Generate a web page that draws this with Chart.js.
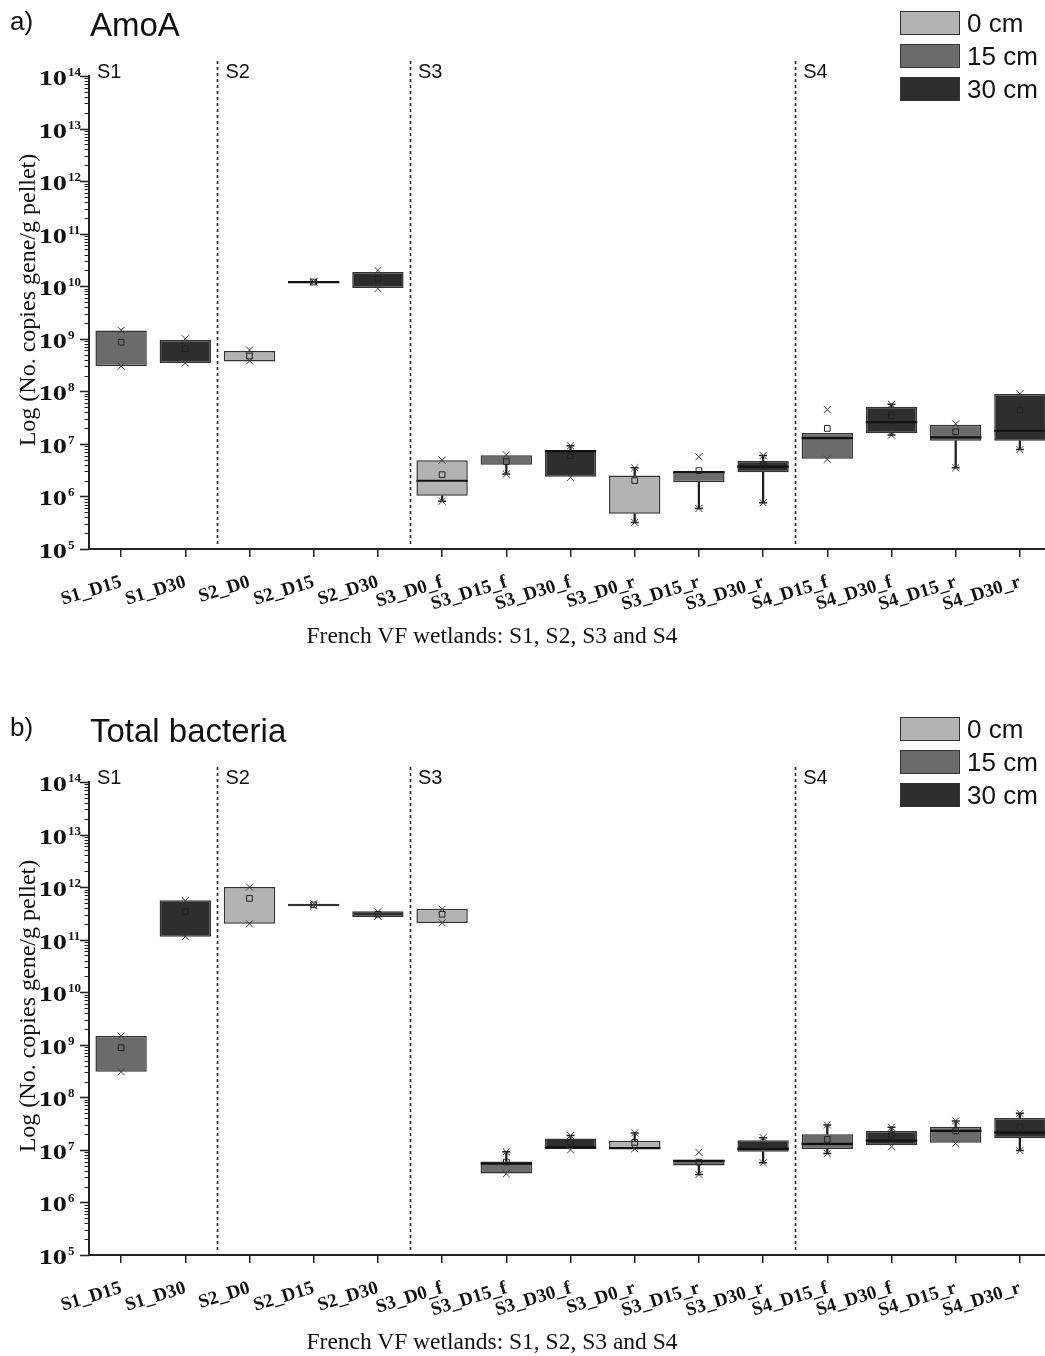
<!DOCTYPE html>
<html><head><meta charset="utf-8">
<script src="https://cdn.jsdelivr.net/npm/chart.js@4.4.1/dist/chart.umd.min.js"></script>
<style>
html,body{margin:0;padding:0;background:#fff;overflow:hidden;width:1045px;height:1356px;}
.panel{position:absolute;left:0;width:1060px;}
.panel canvas{position:absolute;left:0;top:0;}
.txt{position:absolute;white-space:nowrap;color:#111;}
.sans{font-family:"Liberation Sans",Arial,sans-serif;}
.serif{font-family:"Liberation Serif","Times New Roman",serif;}
.legbox{position:absolute;width:60px;height:24px;border:1px solid #333;box-sizing:border-box;}
</style></head><body>
<div class="panel" id="panelA" style="top:0;height:665px;"><canvas id="chartA" width="1060" height="665"></canvas></div>
<div class="panel" id="panelB" style="top:706px;height:650px;"><canvas id="chartB" width="1060" height="650"></canvas></div>
<script>
// ---------------- data ----------------
const categories = ['S1_D15','S1_D30','S2_D0','S2_D15','S2_D30','S3_D0_f','S3_D15_f','S3_D30_f','S3_D0_r','S3_D15_r','S3_D30_r','S4_D15_f','S4_D30_f','S4_D15_r','S4_D30_r'];
const depthCm = [15,30,0,15,30,0,15,30,0,15,30,15,30,15,30];
const depthValues = [0,15,30];
const depthLabels = ['0 cm','15 cm','30 cm'];
const groupNames = ['S1','S2','S3','S4'];
const groupFirstIndex = [0,2,5,11];
const yTickValues = [1e5,1e6,1e7,1e8,1e9,1e10,1e11,1e12,1e13,1e14];
const xAxisTitle = 'French VF wetlands: S1, S2, S3 and S4';
const yAxisTitle = 'Log (No. copies gene/g pellet)';

// a) AmoA
const amoaQ1     = [3.0e8, 3.46e8, 3.68e8, 1.17e10, 9.3e9, 1.03e6, 4.0e6, 2.37e6, 4.7e5, 1.87e6, 2.9e6, 5.2e6, 1.6e7, 1.15e7, 1.15e7];
const amoaQ3     = [1.43e9, 9.5e8, 5.86e8, 1.23e10, 1.87e10, 4.9e6, 6.1e6, 7.6e6, 2.5e6, 2.95e6, 4.7e6, 1.61e7, 5.1e7, 2.32e7, 8.9e7];
const amoaMedian = [null, null, null, 1.2e10, null, 1.99e6, null, 7.3e6, null, 2.9e6, 3.7e6, 1.29e7, 2.6e7, 1.33e7, 1.78e7];
const amoaMean   = [8.6e8, 6.5e8, 4.7e8, 1.2e10, 1.4e10, 2.6e6, 4.6e6, 5.96e6, 2.0e6, 3.1e6, 3.95e6, 1.97e7, 3.44e7, 1.7e7, 4.4e7];
const amoaMin    = [3.0e8, 3.46e8, 3.8e8, 1.2e10, 9.0e9, 8.1e5, 2.66e6, 2.3e6, 3.2e5, 5.9e5, 7.6e5, 5.1e6, 1.47e7, 3.5e6, 7.8e6];
const amoaMax    = [1.45e9, 1.0e9, 6.1e8, 1.22e10, 2.0e10, 4.9e6, 6.2e6, 9.2e6, 3.5e6, 5.7e6, 6.0e6, 4.5e7, 5.65e7, 2.4e7, 9.0e7];
const amoaWhiskerLow  = [null, null, null, null, null, 8.1e5, 2.66e6, null, 3.2e5, 5.9e5, 7.6e5, null, 1.47e7, 3.5e6, 7.8e6];
const amoaWhiskerHigh = [null, null, null, null, null, null, null, 9.2e6, 3.5e6, null, 6.0e6, null, 5.65e7, null, null];

// b) Total bacteria
const bactQ1     = [3.07e8, 1.14e11, 2.0e11, 4.3e11, 2.7e11, 2.07e11, 3.57e6, 1.04e7, 1.05e7, 5.06e6, 9.2e6, 1.04e7, 1.22e7, 1.36e7, 1.66e7];
const bactQ3     = [1.47e9, 5.6e11, 1.0e12, 4.84e11, 3.47e11, 3.89e11, 6.0e6, 1.64e7, 1.5e7, 6.5e6, 1.52e7, 1.99e7, 2.3e7, 2.77e7, 4.06e7];
const bactMedian = [null, null, null, null, null, null, 5.5e6, 1.12e7, 1.08e7, 6.2e6, 1.05e7, 1.3e7, 1.5e7, 2.3e7, 2.13e7];
const bactMean   = [8.8e8, 3.4e11, 6.1e11, 4.6e11, 3.04e11, 3.04e11, 5.87e6, 1.39e7, 1.39e7, 5.87e6, 1.17e7, 1.58e7, 1.87e7, 2.3e7, 2.74e7];
const bactMin    = [3.07e8, 1.14e11, 2.0e11, 4.4e11, 2.8e11, 2.1e11, 3.5e6, 1.0e7, 1.05e7, 3.4e6, 5.7e6, 8.5e6, 1.15e7, 1.33e7, 9.7e6];
const bactMax    = [1.47e9, 5.5e11, 1.0e12, 4.8e11, 3.4e11, 3.8e11, 9.2e6, 1.87e7, 2.1e7, 8.96e6, 1.71e7, 2.99e7, 2.7e7, 3.56e7, 4.98e7];
const bactWhiskerLow  = [null, null, null, null, null, null, null, null, null, 3.4e6, 5.7e6, 8.5e6, null, null, 9.7e6];
const bactWhiskerHigh = [null, null, null, null, null, null, 9.2e6, 1.87e7, 2.1e7, null, 1.71e7, 2.99e7, 2.7e7, 3.56e7, 4.98e7];

// ---------------- styles ----------------
const depthColors = ['#b3b3b3', '#6b6b6b', '#2e2e2e'];
const BOX_FRAC = 0.8;
const CHART_TOP = 76, CHART_BOTTOM = 549, Y_AXIS_W = 89, RIGHT_PAD = 8;
const SERIF = '"Liberation Serif", "Times New Roman", serif';

const decor = {
  id: 'decor',
  beforeDatasetsDraw(chart) {
    const {ctx, chartArea: a, scales: {x}} = chart;
    ctx.save();
    ctx.strokeStyle = '#222'; ctx.lineWidth = 1.6; ctx.setLineDash([3, 3]);
    groupFirstIndex.slice(1).forEach(g => {
      const px = Math.round((x.getPixelForValue(g - 1) + x.getPixelForValue(g)) / 2) + 0.5;
      ctx.beginPath(); ctx.moveTo(px, a.top - 15); ctx.lineTo(px, a.bottom - 4); ctx.stroke();
    });
    ctx.setLineDash([]);
    ctx.font = '20px "Liberation Sans", Arial, sans-serif';
    ctx.fillStyle = '#111'; ctx.textBaseline = 'alphabetic'; ctx.textAlign = 'left';
    groupNames.forEach((g, i) => {
      const px = i === 0 ? a.left : (x.getPixelForValue(groupFirstIndex[i] - 1) + x.getPixelForValue(groupFirstIndex[i])) / 2;
      ctx.fillText(g, px + 8, a.top + 2);
    });
    ctx.restore();
  },
  afterDraw(chart) {
    const {ctx, chartArea: a, scales: {y}} = chart;
    ctx.save();
    ctx.strokeStyle = '#222';
    for (let e = 5; e <= 14; e++) {
      for (let k = 1; k < 10; k++) {
        const v = k * Math.pow(10, e);
        if (v > 1e14 * 1.0001) break;
        const py = Math.round(y.getPixelForValue(v)) + 0.5;
        const len = k === 1 ? 9 : 4.5;
        ctx.lineWidth = k === 1 ? 1.6 : 1;
        ctx.beginPath(); ctx.moveTo(a.left - len, py); ctx.lineTo(a.left, py); ctx.stroke();
      }
    }
    // y tick labels: "10" with superscript exponent
    ctx.fillStyle = '#111'; ctx.textBaseline = 'alphabetic';
    yTickValues.forEach(v => {
      const py = y.getPixelForValue(v);
      const exp = String(Math.round(Math.log10(v)));
      const right = a.left - 22;
      ctx.save();
      ctx.font = 'bold 21px ' + SERIF;
      ctx.textAlign = 'right';
      ctx.translate(right, py + 9);
      ctx.scale(1.35, 1);
      ctx.fillText('10', 0, 0);
      ctx.restore();
      ctx.font = 'bold 13px ' + SERIF;
      ctx.textAlign = 'left';
      ctx.fillText(exp, right + 1, py);
    });
    ctx.restore();
  }
};

function addText(panel, text, cls, style) {
  const d = document.createElement('div');
  d.className = 'txt ' + cls;
  d.textContent = text;
  Object.assign(d.style, style);
  panel.appendChild(d);
  return d;
}

function makePanel(panelId, canvasId, letter, title, s) {
  const panel = document.getElementById(panelId);
  const canvas = document.getElementById(canvasId);
  const H = canvas.height;
  const fill = depthCm.map(d => depthColors[depthValues.indexOf(d)]);
  const halfBox = ctx => {
    const xs = ctx.chart.scales.x;
    return xs.width / categories.length * BOX_FRAC / 2;
  };
  new Chart(canvas, {
    type: 'bar',
    data: {
      labels: categories,
      datasets: [
        {type: 'bar', label: 'whisker low', data: s.wLow.map((w, i) => w == null ? null : [w, s.q1[i]]),
         backgroundColor: '#1e1e1e', borderWidth: 0, barThickness: 1.6, grouped: false, order: 7},
        {type: 'bar', label: 'whisker high', data: s.wHigh.map((w, i) => w == null ? null : [s.q3[i], w]),
         backgroundColor: '#1e1e1e', borderWidth: 0, barThickness: 1.6, grouped: false, order: 7},
        {type: 'bar', label: 'box', data: s.q1.map((q, i) => [q, s.q3[i]]),
         backgroundColor: fill, borderColor: '#333', borderWidth: 1.5, borderSkipped: false,
         barPercentage: BOX_FRAC, categoryPercentage: 1, grouped: false, order: 6},
        {type: 'line', label: 'median', data: s.median, showLine: false, pointStyle: 'line',
         pointRadius: halfBox, pointBorderWidth: 2.2, pointBorderColor: '#111', order: 4},
        {type: 'line', label: 'cap low', data: s.wLow, showLine: false, pointStyle: 'line',
         pointRadius: 4, pointBorderWidth: 1.5, pointBorderColor: '#1e1e1e', order: 3},
        {type: 'line', label: 'cap high', data: s.wHigh, showLine: false, pointStyle: 'line',
         pointRadius: 4, pointBorderWidth: 1.5, pointBorderColor: '#1e1e1e', order: 3},
        {type: 'line', label: 'min', data: s.min, showLine: false, pointStyle: 'crossRot',
         pointRadius: 5, pointBorderWidth: 1, pointBorderColor: '#3a3a3a', order: 2},
        {type: 'line', label: 'max', data: s.max, showLine: false, pointStyle: 'crossRot',
         pointRadius: 5, pointBorderWidth: 1, pointBorderColor: '#3a3a3a', order: 2},
        {type: 'line', label: 'mean', data: s.mean, showLine: false, pointStyle: 'rect',
         pointRadius: 4, pointBorderWidth: 1, pointBorderColor: '#222', pointBackgroundColor: 'rgba(0,0,0,0)', order: 1}
      ]
    },
    options: {
      responsive: false, animation: false, events: [],
      layout: {padding: {top: CHART_TOP, right: RIGHT_PAD, left: 0, bottom: 0}},
      plugins: {legend: {display: false}, tooltip: {enabled: false}},
      scales: {
        x: {
          type: 'category', offset: true,
          grid: {display: true, drawOnChartArea: false, drawTicks: true, tickLength: 8, offset: false, color: '#222', lineWidth: 1.5},
          border: {display: true, color: '#222', width: 2},
          ticks: {autoSkip: false, maxRotation: 17, minRotation: 17, padding: 14, color: '#111',
                  font: {family: SERIF, weight: 'bold', size: 19}},
          afterFit: sc => { sc.height = H - CHART_BOTTOM; }
        },
        y: {
          type: 'logarithmic', min: yTickValues[0], max: yTickValues[yTickValues.length - 1],
          afterBuildTicks: sc => { sc.ticks = yTickValues.map(v => ({value: v, major: true})); },
          grid: {display: true, drawOnChartArea: false, drawTicks: false},
          border: {display: true, color: '#222', width: 2},
          ticks: {display: false},
          afterFit: sc => { sc.width = Y_AXIS_W; }
        }
      }
    },
    plugins: [decor]
  });

  addText(panel, letter, 'sans', {left: '10px', top: '8px', fontSize: '26px', lineHeight: '26px'});
  addText(panel, title, 'sans', {left: '90px', top: '9px', fontSize: '33px', lineHeight: '32px'});
  depthLabels.forEach((lab, i) => {
    const b = document.createElement('div');
    b.className = 'legbox';
    Object.assign(b.style, {left: '900px', top: (11 + 33 * i) + 'px', background: depthColors[i]});
    panel.appendChild(b);
    addText(panel, lab, 'sans', {left: '967px', top: (10 + 33 * i) + 'px', fontSize: '26px', lineHeight: '26px'});
  });
  addText(panel, xAxisTitle, 'serif', {left: '192px', width: '600px', textAlign: 'center', top: '622px', fontSize: '23.5px', lineHeight: '26px'});
  addText(panel, yAxisTitle, 'serif', {left: (27 - 200) + 'px', top: (300 - 13) + 'px', width: '400px', textAlign: 'center',
    fontSize: '24px', lineHeight: '26px', transform: 'rotate(-90deg)'});
}

makePanel('panelA', 'chartA', 'a)', 'AmoA', {
  q1: amoaQ1, q3: amoaQ3, median: amoaMedian, mean: amoaMean, min: amoaMin, max: amoaMax,
  wLow: amoaWhiskerLow, wHigh: amoaWhiskerHigh
});
makePanel('panelB', 'chartB', 'b)', 'Total bacteria', {
  q1: bactQ1, q3: bactQ3, median: bactMedian, mean: bactMean, min: bactMin, max: bactMax,
  wLow: bactWhiskerLow, wHigh: bactWhiskerHigh
});
</script>
</body></html>
